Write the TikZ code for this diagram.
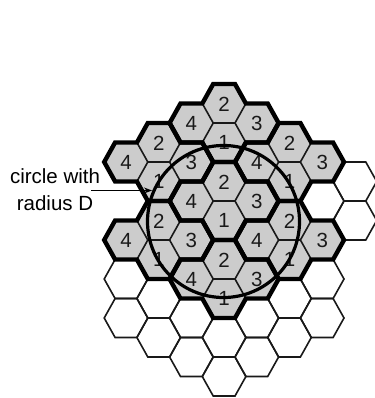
\documentclass[tikz,border=0pt]{standalone}
\usepackage{fontspec}
\usetikzlibrary{arrows.meta}
\setmainfont{Liberation Sans}
\definecolor{cellgray}{gray}{0.8}
\definecolor{inkdark}{gray}{0.1}
\newcommand{\hexcell}[3][]{\draw[#1] (#2-21.8,#3) -- (#2-10.9,#3-19.5) -- (#2+10.9,#3-19.5) -- (#2+21.8,#3) -- (#2+10.9,#3+19.5) -- (#2-10.9,#3+19.5) -- cycle;}
\newcommand{\clusterpath}[2]{(#1-10.9,#2-19.5) -- (#1+10.9,#2-19.5) -- (#1+21.8,#2) -- (#1+43.6,#2) -- (#1+54.5,#2+19.5) -- (#1+43.6,#2+39) -- (#1+21.8,#2+39) -- (#1+10.9,#2+58.5) -- (#1-10.9,#2+58.5) -- (#1-21.8,#2+39) -- (#1-43.6,#2+39) -- (#1-54.5,#2+19.5) -- (#1-43.6,#2) -- (#1-21.8,#2) -- cycle}
\tikzset{
  thinhex/.style={draw=inkdark,line width=1.6pt,line join=miter},
  thickhex/.style={draw=black,line width=4.4pt,line join=miter},
  cellnum/.style={font=\fontsize{20.5}{20.5}\selectfont,text=inkdark,inner sep=0pt},
  caption/.style={font=\fontsize{20.5}{27}\selectfont,text=black,align=center,inner sep=0pt},
}
\begin{document}
\begin{tikzpicture}[x=1pt,y=-1pt]
\useasboundingbox (0,0) rectangle (374,398);
\fill[white] (0,0) rectangle (374,398);
% empty cells
\foreach \cx/\cy in {126/279,126/318,158.7/298.5,158.7/337.5,191.4/318,191.4/357,224.1/337.5,224.1/376.5,256.8/318,256.8/357,289.5/298.5,289.5/337.5,322.2/201,322.2/279,322.2/318,354.9/181.5,354.9/220.5}
  {\hexcell[thinhex]{\cx}{\cy}}
% clusters
\foreach \cx/\cy in {224.1/103.5,158.7/142.5,289.5/142.5,224.1/181.5,158.7/220.5,289.5/220.5,224.1/259.5}{
  \fill[cellgray] \clusterpath{\cx}{\cy};
  \draw[thinhex] (\cx+21.8,\cy) -- (\cx+10.9,\cy+19.5) -- (\cx-10.9,\cy+19.5) -- (\cx-21.8,\cy);
  \draw[thinhex] (\cx+10.9,\cy+19.5) -- (\cx+21.8,\cy+39);
  \draw[thinhex] (\cx-10.9,\cy+19.5) -- (\cx-21.8,\cy+39);
  \node[cellnum] at (\cx,\cy+0.5) {2};
  \node[cellnum] at (\cx-32.7,\cy+19.5) {4};
  \node[cellnum] at (\cx+32.7,\cy+19.5) {3};
  \node[cellnum] at (\cx,\cy+38.5) {1};
}
\foreach \cx/\cy in {224.1/103.5,158.7/142.5,289.5/142.5,224.1/181.5,158.7/220.5,289.5/220.5,224.1/259.5}{
  \draw[thickhex] \clusterpath{\cx}{\cy};
}
% circle
\node[draw=black,line width=3.2pt,circle,minimum size=152pt,inner sep=0pt] (radiuscircle) at (223.5,221.5) {};
% caption
\node[caption] (lbl) at (55,189.5) {circle with\\radius D};
\coordinate (tip) at (152,190.5);
\coordinate (tail) at (91,190.5);
\draw[line width=1.3pt,-{Stealth[length=8pt,width=6pt]}] (tail) -- (tip);
\end{tikzpicture}
\end{document}
